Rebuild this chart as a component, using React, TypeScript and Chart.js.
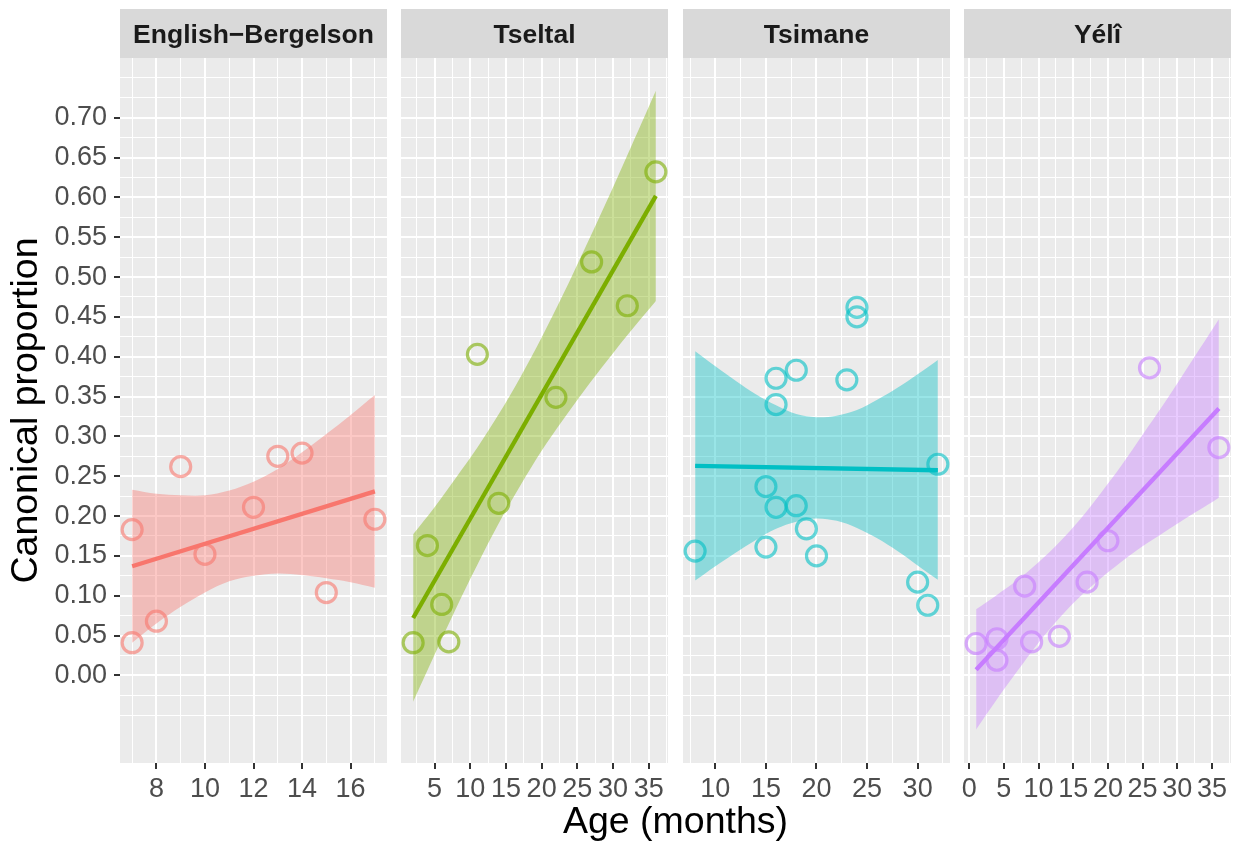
import React, { useEffect, useRef } from "react";
import { Chart, registerables } from "chart.js";
Chart.register(...registerables);

const FONT = '"Liberation Sans", Arial, Helvetica, sans-serif';

// ---------- data ----------
const panelLabels = ["English\u2212Bergelson", "Tseltal", "Tsimane", "Yélî"];
const panelColors = ["#F8766D", "#7CAE00", "#00BFC4", "#C77CFF"];

const englishAge = [7, 7, 8, 9, 10, 12, 13, 14, 15, 17];
const englishProp = [0.183, 0.041, 0.068, 0.262, 0.152, 0.211, 0.275, 0.279, 0.104, 0.196];
const englishFitAge = [7, 17];
const englishFit = [0.137, 0.231];
const englishBandAge = [7, 8, 9, 10, 11, 12, 13, 14, 15, 16, 17];
const englishBandLow = [0.041, 0.065, 0.086, 0.104, 0.118, 0.125, 0.128, 0.126, 0.122, 0.117, 0.110];
const englishBandHigh = [0.233, 0.228, 0.226, 0.226, 0.232, 0.243, 0.259, 0.280, 0.303, 0.327, 0.352];

const tseltalAge = [2, 4, 6, 7, 11, 14, 22, 27, 32, 36];
const tseltalProp = [0.041, 0.163, 0.089, 0.042, 0.403, 0.216, 0.349, 0.519, 0.464, 0.632];
const tseltalFitAge = [2, 36];
const tseltalFit = [0.072, 0.602];
const tseltalBandAge = [2, 5, 8, 11, 14, 17, 20, 23, 26, 29, 32, 36];
const tseltalBandLow = [-0.033, 0.026, 0.084, 0.139, 0.191, 0.238, 0.282, 0.321, 0.358, 0.393, 0.427, 0.470];
const tseltalBandHigh = [0.177, 0.211, 0.248, 0.286, 0.328, 0.374, 0.424, 0.478, 0.535, 0.593, 0.653, 0.734];

const tsimaneAge = [8, 15, 15, 16, 16, 16, 18, 18, 19, 20, 23, 24, 24, 30, 31, 32];
const tsimaneProp = [0.156, 0.237, 0.161, 0.373, 0.340, 0.211, 0.383, 0.213, 0.184, 0.150, 0.371, 0.462, 0.450, 0.117, 0.088, 0.265];
const tsimaneFitAge = [8, 32];
const tsimaneFit = [0.263, 0.2575];
const tsimaneBandAge = [8, 10, 12, 14, 16, 18, 20, 22, 24, 26, 28, 30, 32];
const tsimaneBandLow = [0.119, 0.137, 0.154, 0.170, 0.184, 0.193, 0.197, 0.194, 0.185, 0.172, 0.156, 0.138, 0.120];
const tsimaneBandHigh = [0.407, 0.388, 0.370, 0.353, 0.339, 0.328, 0.324, 0.326, 0.333, 0.346, 0.361, 0.378, 0.396];

const yeliAge = [1, 4, 4, 8, 9, 13, 17, 20, 26, 36];
const yeliProp = [0.040, 0.046, 0.019, 0.112, 0.042, 0.049, 0.117, 0.169, 0.386, 0.286];
const yeliFitAge = [1, 36];
const yeliFit = [0.007, 0.335];
const yeliBandAge = [1, 4, 7, 10, 13, 16, 19, 22, 25, 28, 31, 34, 36];
const yeliBandLow = [-0.068, -0.030, 0.006, 0.041, 0.072, 0.099, 0.122, 0.143, 0.162, 0.179, 0.196, 0.212, 0.223];
const yeliBandHigh = [0.083, 0.101, 0.120, 0.142, 0.167, 0.196, 0.229, 0.264, 0.302, 0.340, 0.380, 0.420, 0.447];

// axis ticks
const englishTicks = [8, 10, 12, 14, 16];
const englishMinor = [7, 9, 11, 13, 15, 17];
const tseltalTicks = [5, 10, 15, 20, 25, 30, 35];
const tseltalMinor = [2.5, 7.5, 12.5, 17.5, 22.5, 27.5, 32.5, 37.5];
const tsimaneTicks = [10, 15, 20, 25, 30];
const tsimaneMinor = [7.5, 12.5, 17.5, 22.5, 27.5, 32.5];
const yeliTicks = [0, 5, 10, 15, 20, 25, 30, 35];
const yeliMinor = [2.5, 7.5, 12.5, 17.5, 22.5, 27.5, 32.5, 37.5];
const xRanges = [
  [6.5, 17.5],
  [0.3, 37.7],
  [6.8, 33.2],
  [-0.75, 37.75],
];

const yTicks = [0, 0.05, 0.1, 0.15, 0.2, 0.25, 0.3, 0.35, 0.4, 0.45, 0.5, 0.55, 0.6, 0.65, 0.7];
const yMinor = [-0.05, -0.025, 0.025, 0.075, 0.125, 0.175, 0.225, 0.275, 0.325, 0.375, 0.425, 0.475, 0.525, 0.575, 0.625, 0.675, 0.725, 0.75];
const yRange = [-0.11, 0.775];

const panels = [
  { age: englishAge, prop: englishProp, fitAge: englishFitAge, fit: englishFit, bandAge: englishBandAge, low: englishBandLow, high: englishBandHigh, ticks: englishTicks, minor: englishMinor },
  { age: tseltalAge, prop: tseltalProp, fitAge: tseltalFitAge, fit: tseltalFit, bandAge: tseltalBandAge, low: tseltalBandLow, high: tseltalBandHigh, ticks: tseltalTicks, minor: tseltalMinor },
  { age: tsimaneAge, prop: tsimaneProp, fitAge: tsimaneFitAge, fit: tsimaneFit, bandAge: tsimaneBandAge, low: tsimaneBandLow, high: tsimaneBandHigh, ticks: tsimaneTicks, minor: tsimaneMinor },
  { age: yeliAge, prop: yeliProp, fitAge: yeliFitAge, fit: yeliFit, bandAge: yeliBandAge, low: yeliBandLow, high: yeliBandHigh, ticks: yeliTicks, minor: yeliMinor },
];

// ---------- layout ----------
const PLOT_LEFTS = [120, 401, 683, 964];
const PLOT_W = 267;
const H = 846;
const STRIP_TOP = 9;
const PLOT_TOP = 58;
const X_AXIS_H = 83;

function rgba(hex: string, a: number) {
  const n = parseInt(hex.slice(1), 16);
  return `rgba(${(n >> 16) & 255},${(n >> 8) & 255},${n & 255},${a})`;
}
const has = (list: number[], v: number) => list.some((t) => Math.abs(t - v) < 1e-6);

const panelPlugin = {
  id: "facetPanel",
  beforeDraw(chart: any, _args: any, opts: any) {
    const { ctx, chartArea } = chart;
    ctx.save();
    ctx.fillStyle = "#EBEBEB";
    ctx.fillRect(chartArea.left, chartArea.top, chartArea.right - chartArea.left, chartArea.bottom - chartArea.top);
    ctx.fillStyle = "#D9D9D9";
    ctx.fillRect(chartArea.left, STRIP_TOP, chartArea.right - chartArea.left, chartArea.top - STRIP_TOP);
    ctx.fillStyle = "#1A1A1A";
    ctx.font = `bold 26.5px ${FONT}`;
    ctx.textAlign = "center";
    ctx.textBaseline = "alphabetic";
    ctx.fillText(opts.label, (chartArea.left + chartArea.right) / 2, 43);
    ctx.restore();
  },
};

function FacetPanel({ idx }: { idx: number }) {
  const ref = useRef<HTMLCanvasElement>(null);
  const showY = idx === 0;
  const plotLeft = PLOT_LEFTS[idx];
  const marginLeft = showY ? plotLeft : 10;
  const marginRight = idx === 3 ? 4 : 10;
  const canvasLeft = plotLeft - marginLeft;
  const canvasW = marginLeft + PLOT_W + marginRight;
  const padLeft = showY ? 0 : marginLeft;
  const padRight = marginRight;

  useEffect(() => {
    const p = panels[idx];
    const color = panelColors[idx];
    const xTicksAll = [...p.ticks, ...p.minor].sort((a, b) => a - b);
    const yTicksAll = [...yTicks, ...yMinor].sort((a, b) => a - b);

    const chart = new Chart(ref.current as HTMLCanvasElement, {
      type: "line",
      data: {
        datasets: [
          {
            label: "fit",
            data: p.fitAge.map((a, i) => ({ x: a, y: p.fit[i] })),
            borderColor: color,
            borderWidth: 4.3,
            pointRadius: 0,
            fill: false,
            order: 0,
            borderCapStyle: "butt",
          },
          {
            label: "upper",
            data: p.bandAge.map((a, i) => ({ x: a, y: p.high[i] })),
            borderColor: "rgba(0,0,0,0)",
            borderWidth: 0,
            pointRadius: 0,
            backgroundColor: rgba(color, 0.4),
            fill: "+1",
            tension: 0.35,
            order: 1,
          },
          {
            label: "lower",
            data: p.bandAge.map((a, i) => ({ x: a, y: p.low[i] })),
            borderColor: "rgba(0,0,0,0)",
            borderWidth: 0,
            pointRadius: 0,
            fill: false,
            tension: 0.35,
            order: 2,
          },
          {
            label: "points",
            data: p.age.map((a, i) => ({ x: a, y: p.prop[i] })),
            showLine: false,
            pointRadius: 10,
            pointBorderWidth: 3.2,
            pointBackgroundColor: "rgba(0,0,0,0)",
            pointBorderColor: rgba(color, 0.6),
            borderColor: rgba(color, 0.6),
            fill: false,
            clip: false,
            order: 3,
          },
        ] as any,
      },
      options: {
        responsive: false,
        animation: false,
        events: [],
        layout: { autoPadding: false, padding: { left: padLeft, right: padRight, top: PLOT_TOP, bottom: 0 } },
        plugins: {
          legend: { display: false },
          tooltip: { enabled: false },
          facetPanel: { label: panelLabels[idx] },
        } as any,
        scales: {
          x: {
            type: "linear",
            min: xRanges[idx][0],
            max: xRanges[idx][1],
            afterBuildTicks: (s: any) => {
              s.ticks = xTicksAll.map((v) => ({ value: v }));
            },
            afterFit: (s: any) => {
              s.height = X_AXIS_H;
            },
            border: { display: false },
            grid: {
              color: "#FFFFFF",
              lineWidth: (c: any) => (has(p.ticks, c.tick?.value) ? 2 : 1),
              drawTicks: true,
              tickLength: 6,
              tickWidth: 2,
              tickColor: (c: any) => (has(p.ticks, c.tick?.value) ? "#333333" : "rgba(0,0,0,0)"),
            },
            ticks: {
              autoSkip: false,
              maxRotation: 0,
              minRotation: 0,
              padding: 4,
              color: "#4D4D4D",
              font: { family: FONT, size: 27 },
              callback: (v: any) => (has(p.ticks, Number(v)) ? String(v) : ""),
            },
          },
          y: {
            type: "linear",
            min: yRange[0],
            max: yRange[1],
            afterBuildTicks: (s: any) => {
              s.ticks = yTicksAll.map((v) => ({ value: v }));
            },
            afterFit: (s: any) => {
              s.width = showY ? plotLeft : 0;
            },
            border: { display: false },
            grid: {
              color: "#FFFFFF",
              lineWidth: (c: any) => (has(yTicks, c.tick?.value) ? 2 : 1),
              drawTicks: showY,
              tickLength: 6,
              tickWidth: 2,
              tickColor: (c: any) => (has(yTicks, c.tick?.value) ? "#333333" : "rgba(0,0,0,0)"),
            },
            ticks: {
              display: showY,
              autoSkip: false,
              padding: 7,
              color: "#4D4D4D",
              font: { family: FONT, size: 27 },
              callback: (v: any) => (has(yTicks, Number(v)) ? Number(v).toFixed(2) : ""),
            },
            title: {
              display: showY,
              text: "Canonical proportion",
              color: "#000000",
              font: { family: FONT, size: 37.5 },
              padding: { top: 4, bottom: 0 },
            },
          },
        },
      } as any,
      plugins: [panelPlugin as any],
    });
    return () => chart.destroy();
  }, []);

  return (
    <canvas
      ref={ref}
      width={canvasW}
      height={H}
      style={{ position: "absolute", left: canvasLeft, top: 0, width: canvasW, height: H }}
    />
  );
}

export default function App() {
  return (
    <div
      style={{
        position: "absolute",
        left: 0,
        top: 0,
        width: 1235,
        height: 846,
        overflow: "hidden",
        background: "#FFFFFF",
      }}
    >
      {[0, 1, 2, 3].map((i) => (
        <FacetPanel key={i} idx={i} />
      ))}
      <div
        style={{
          position: "absolute",
          left: 120,
          width: 1111,
          top: 802,
          textAlign: "center",
          fontFamily: FONT,
          fontSize: 37.5,
          lineHeight: "37.5px",
          color: "#000000",
          whiteSpace: "nowrap",
        }}
      >
        Age (months)
      </div>
    </div>
  );
}
